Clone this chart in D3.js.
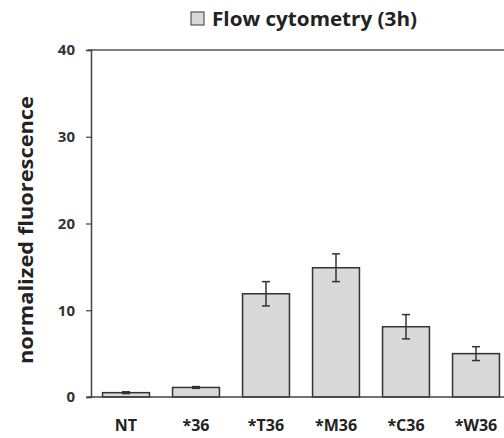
<!DOCTYPE html>
<html><head><meta charset="utf-8">
<script src="https://cdn.jsdelivr.net/npm/d3@7"></script>
<style>body{margin:0;background:#fff}svg{display:block}</style>
</head><body>
<script>
const categories = ["NT", "*36", "*T36", "*M36", "*C36", "*W36"];
const values = [0.5, 1.1, 11.9, 14.9, 8.1, 5.0];
const errors = [0.1, 0.1, 1.4, 1.6, 1.4, 0.8];
const yTicks = [0, 10, 20, 30, 40];
const seriesName = "Flow cytometry (3h)";

const W = 504, H = 438;
const svg = d3.select("body").append("svg").attr("width", W).attr("height", H);
const font = "'Open Sans', sans-serif";
const x = d3.scaleBand().domain(categories).range([91, 511]).paddingInner(0.33).paddingOuter(0.165);
const y = d3.scaleLinear().domain([0, 40]).range([397, 50]);

// top border
svg.append("line").attr("x1", 88).attr("x2", W).attr("y1", y(40)).attr("y2", y(40))
  .attr("stroke", "#555").attr("stroke-width", 1.5);

// bars
svg.selectAll("rect.bar").data(categories).enter().append("rect")
  .attr("x", d => x(d)).attr("width", x.bandwidth())
  .attr("y", (d, i) => y(values[i])).attr("height", (d, i) => y(0) - y(values[i]))
  .attr("fill", "#d9d9d9").attr("stroke", "#333").attr("stroke-width", 1.5);

// error bars
const eg = svg.append("g").attr("stroke", "#333").attr("stroke-width", 1.5);
categories.forEach((c, i) => {
  const cx = x(c) + x.bandwidth() / 2;
  const hi = y(values[i] + errors[i]), lo = y(values[i] - errors[i]);
  eg.append("line").attr("x1", cx).attr("x2", cx).attr("y1", hi).attr("y2", lo);
  eg.append("line").attr("x1", cx - 4).attr("x2", cx + 4).attr("y1", hi).attr("y2", hi);
  eg.append("line").attr("x1", cx - 4).attr("x2", cx + 4).attr("y1", lo).attr("y2", lo);
});

// y axis
const ya = svg.append("g").attr("transform", "translate(91,0)")
  .call(d3.axisLeft(y).tickValues(yTicks).tickSize(5).tickPadding(11));
ya.select(".domain").attr("stroke", "#444").attr("stroke-width", 1.5);
ya.selectAll(".tick line").attr("stroke", "#444").attr("stroke-width", 1.2);
ya.selectAll(".tick text").attr("font-family", font).attr("font-weight", "bold")
  .attr("font-size", 15).attr("fill", "#333");

// x axis line
svg.append("line").attr("x1", 87).attr("x2", W).attr("y1", y(0)).attr("y2", y(0))
  .attr("stroke", "#444").attr("stroke-width", 1.5);
svg.selectAll("text.xl").data(categories).enter().append("text")
  .attr("x", d => x(d) + x.bandwidth() / 2).attr("y", 431)
  .attr("text-anchor", "middle").attr("font-family", font).attr("font-weight", "bold")
  .attr("font-size", 16).attr("fill", "#222").text(d => d);

// y label
svg.append("text").attr("transform", "translate(33,230) rotate(-90)")
  .attr("text-anchor", "middle").attr("font-family", font).attr("font-weight", "bold")
  .attr("font-size", 19).attr("fill", "#222")
  .attr("textLength", 268).attr("lengthAdjust", "spacingAndGlyphs")
  .text("normalized fluorescence");

// legend / title
svg.append("rect").attr("x", 191).attr("y", 12).attr("width", 13).attr("height", 13)
  .attr("fill", "#d9d9d9").attr("stroke", "#555").attr("stroke-width", 1.2);
svg.append("text").attr("x", 212).attr("y", 26).attr("font-family", font)
  .attr("font-weight", "bold").attr("font-size", 19).attr("fill", "#222")
  .attr("textLength", 205).attr("lengthAdjust", "spacingAndGlyphs")
  .text(seriesName);
</script>
</body></html>
